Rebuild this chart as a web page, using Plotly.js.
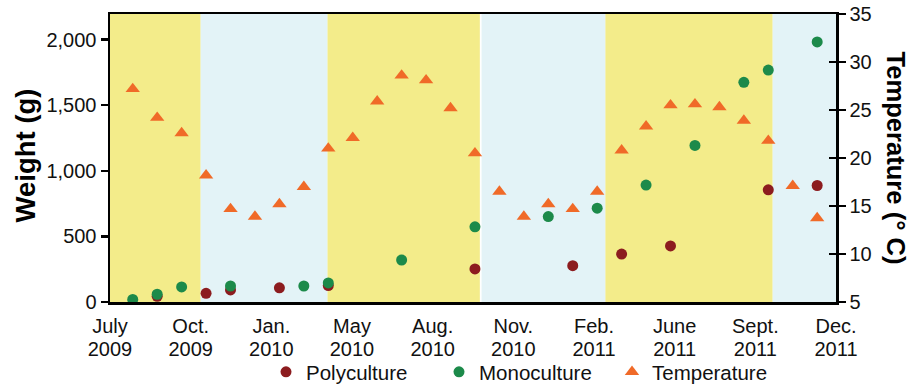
<!DOCTYPE html>
<html><head><meta charset="utf-8">
<script src="https://cdn.plot.ly/plotly-3.0.1.min.js"></script>
<style>html,body{margin:0;padding:0;background:#fff;}#chart{width:914px;height:385px;}</style>
</head><body><div id="chart"></div>
<script>
// sampling index (monthly samples, Aug 2009 = 1 ... Dec 2011 = 29)
const tempMonths = [1,2,3,4,5,6,7,8,9,10,11,12,13,14,15,16,17,18,19,20,21,22,23,24,25,26,27,28,29];
const temperature = [27.2,24.2,22.6,18.2,14.7,13.9,15.2,17.0,21.0,22.1,25.9,28.6,28.1,25.2,20.5,16.5,13.9,15.2,14.7,16.5,20.8,23.3,25.5,25.6,25.3,23.9,21.8,17.1,13.75];

const monoMonths = [1,2,3,5,8,9,12,15,18,20,22,24,26,27,29];
const monoWeight = [20,59,115,122,122,145,320,573,651,715,891,1193,1674,1768,1982];

const polyMonths = [2,4,5,7,9,15,19,21,23,27,29];
const polyWeight = [43,66,92,108,125,252,277,365,427,855,888];

// axis labels
const tickPositions = [0.07,3.37,6.67,9.97,13.27,16.57,19.87,23.17,26.47,29.77];
const monthLabels = ['July','Oct.','Jan.','May','Aug.','Nov.','Feb.','June','Sept.','Dec.'];
const yearLabels = ['2009','2009','2010','2010','2010','2010','2011','2011','2011','2011'];

// seasonal background bands
const warmSpans = [[0.07,3.78],[8.96,15.2],[20.33,27.18]];
const coolSpans = [[3.78,8.96],[15.27,20.33],[27.18,29.77]];

const xRange = [0.07, 29.77];
const FONT = 'Liberation Sans, Arial, Helvetica, sans-serif';

const traces = [
  {x: polyMonths, y: polyWeight, name: 'Polyculture', type: 'scatter', mode: 'markers',
   marker: {color: '#8c1c1f', size: 11, symbol: 'circle'}, yaxis: 'y'},
  {x: monoMonths, y: monoWeight, name: 'Monoculture', type: 'scatter', mode: 'markers',
   marker: {color: '#1c8a4a', size: 11, symbol: 'circle'}, yaxis: 'y'},
  {x: tempMonths, y: temperature, name: 'Temperature', type: 'scatter', mode: 'markers',
   marker: {color: '#f06a28', size: 12.5, symbol: 'triangle-up'}, yaxis: 'y2'},
  {x: tempMonths, y: temperature, type: 'scatter', mode: 'markers', showlegend: false,
   hoverinfo: 'skip', marker: {opacity: 0}, xaxis: 'x2', yaxis: 'y3'}
];

const shapes = [];
warmSpans.forEach(s => shapes.push({type:'rect', xref:'x', yref:'paper', x0:s[0], x1:s[1], y0:0, y1:1,
  fillcolor:'#f3ec8a', line:{width:0}, layer:'below'}));
coolSpans.forEach(s => shapes.push({type:'rect', xref:'x', yref:'paper', x0:s[0], x1:s[1], y0:0, y1:1,
  fillcolor:'#e3f3f7', line:{width:0}, layer:'below'}));

const layout = {
  width: 914, height: 385,
  margin: {l: 110, r: 78, t: 14, b: 83},
  paper_bgcolor: '#ffffff', plot_bgcolor: '#ffffff',
  font: {family: FONT, size: 20, color: '#111'},
  showlegend: true,
  legend: {orientation: 'h', xref: 'container', yref: 'container', x: 266/914, y: 1 - 352/385,
    xanchor: 'left', yanchor: 'top', entrywidth: 128, entrywidthmode: 'pixels',
    font: {family: FONT, size: 20.5, color: '#111'}, bgcolor: 'rgba(0,0,0,0)'},
  xaxis: {range: xRange, tickmode: 'array', tickvals: tickPositions, ticktext: monthLabels,
    ticks: '', showgrid: false, zeroline: false, showline: true, mirror: true, linecolor: '#000', linewidth: 2.5,
    ticklabelstandoff: 4, tickfont: {family: FONT, size: 20, color: '#111'}},
  xaxis2: {range: xRange, overlaying: 'x', side: 'bottom', tickmode: 'array', tickvals: tickPositions, ticktext: yearLabels,
    ticks: '', showgrid: false, zeroline: false, showline: false, ticklabelstandoff: 33,
    tickfont: {family: FONT, size: 20, color: '#111'}},
  yaxis: {range: [0, 2195], tickmode: 'array', tickvals: [0,500,1000,1500,2000], tickformat: ',d',
    ticks: 'outside', ticklen: 7, tickwidth: 2.5, tickcolor: '#000', showgrid: false, zeroline: false,
    showline: true, linecolor: '#000', linewidth: 2.5,
    tickfont: {family: FONT, size: 20, color: '#111'}},
  yaxis2: {range: [5, 35], overlaying: 'y', side: 'right', dtick: 5, tick0: 5,
    ticks: 'outside', ticklen: 7, tickwidth: 2.5, tickcolor: '#000', showgrid: false, zeroline: false,
    showline: true, linecolor: '#000', linewidth: 2.5,
    tickfont: {family: FONT, size: 20, color: '#111'}},
  yaxis3: {range: [5, 35], overlaying: 'y', side: 'right', dtick: 5, tick0: 5,
    ticks: 'inside', ticklen: 7, tickwidth: 2.5, tickcolor: '#000', showgrid: false, zeroline: false,
    showline: false, showticklabels: false},
  shapes: shapes,
  annotations: [
    {text: 'Weight (g)', textangle: -90, xref: 'paper', yref: 'paper',
     x: (25 - 110) / 726, y: 0.509, xanchor: 'center', yanchor: 'middle', showarrow: false,
     font: {family: FONT, size: 27.5, color: '#000', weight: 'bold'}},
    {text: 'Temperature (° C)', textangle: 90, xref: 'paper', yref: 'paper',
     x: (896 - 110) / 726, y: 0.502, xanchor: 'center', yanchor: 'middle', showarrow: false,
     font: {family: FONT, size: 25.6, color: '#000', weight: 'bold'}}]
};

Plotly.newPlot('chart', traces, layout, {staticPlot: true, displayModeBar: false});
</script></body></html>
